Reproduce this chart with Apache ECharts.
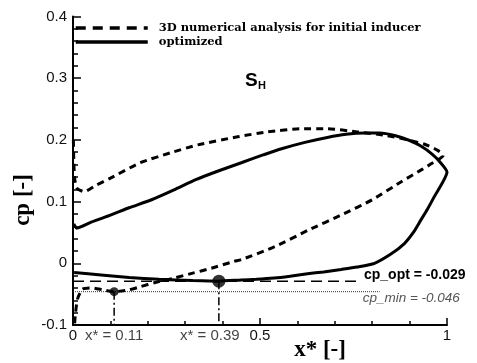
<!DOCTYPE html>
<html>
<head>
<meta charset="utf-8">
<script src="https://cdn.jsdelivr.net/npm/echarts@6/dist/echarts.min.js"></script>
<style>
  html, body { margin: 0; padding: 0; background: #fff; }
  #chart { width: 477px; height: 363px; }
</style>
</head>
<body>
<div id="chart"></div>
<script>
// Pressure coefficient along the blade chord (x* normalised chord, cp [-])
const initialUpper = [
  [0.001, 0.200], [0.002, 0.170], [0.004, 0.140], [0.010, 0.122], [0.030, 0.116],
  [0.060, 0.126], [0.100, 0.138], [0.180, 0.163], [0.260, 0.179], [0.334, 0.192],
  [0.440, 0.205], [0.520, 0.213], [0.610, 0.218], [0.680, 0.218], [0.760, 0.213],
  [0.840, 0.207], [0.895, 0.200], [0.940, 0.193], [0.975, 0.183], [0.990, 0.175]
];
const initialLower = [
  [0.990, 0.175], [0.960, 0.162], [0.930, 0.151], [0.880, 0.133], [0.800, 0.103],
  [0.720, 0.079], [0.630, 0.054], [0.540, 0.027], [0.450, 0.006], [0.430, 0.003],
  [0.370, -0.008], [0.320, -0.016], [0.270, -0.024], [0.220, -0.031], [0.180, -0.038],
  [0.150, -0.043], [0.110, -0.046], [0.080, -0.043], [0.050, -0.040], [0.025, -0.042],
  [0.012, -0.058], [0.006, -0.085], [0.003, -0.110]
];
const optimizedUpper = [
  [0.002, 0.064], [0.010, 0.057], [0.050, 0.067], [0.100, 0.078], [0.150, 0.090],
  [0.210, 0.103], [0.270, 0.119], [0.330, 0.136], [0.390, 0.150], [0.450, 0.163],
  [0.510, 0.176], [0.560, 0.186], [0.620, 0.196], [0.680, 0.204], [0.730, 0.209],
  [0.780, 0.211], [0.820, 0.211], [0.860, 0.207], [0.900, 0.199], [0.930, 0.190],
  [0.960, 0.177], [0.980, 0.165], [1.000, 0.148]
];
const optimizedLower = [
  [1.000, 0.148], [0.966, 0.108], [0.948, 0.088], [0.930, 0.070],
  [0.910, 0.050], [0.886, 0.032], [0.850, 0.015], [0.806, 0.000], [0.760, -0.006],
  [0.717, -0.010], [0.670, -0.014], [0.627, -0.017], [0.580, -0.021], [0.538, -0.024],
  [0.490, -0.026], [0.450, -0.027], [0.390, -0.029], [0.320, -0.028], [0.230, -0.026],
  [0.150, -0.023], [0.075, -0.019], [0.003, -0.015]
];

// Minimum pressure points
const xMin = 0.11, cpMin = -0.046;   // initial inducer
const xOpt = 0.39, cpOpt = -0.029;   // optimized
const optLineEnd = 0.77;
const minLineEnd = 0.82;

const seriesNames = ['3D numerical analysis for initial inducer', 'optimized'];
const xTicks = [0, 0.5, 1];
const yTicks = [-0.1, 0, 0.1, 0.2, 0.3, 0.4];
const sectionTitle = ['S', 'H'];
const axisNames = ['x* [-]', 'cp [-]'];

const sans = 'Liberation Sans, Arial, sans-serif';
const serif = 'Liberation Serif, Times New Roman, serif';

const chart = echarts.init(document.getElementById('chart'), null, { renderer: 'canvas' });

const yMin = yTicks[0], yMax = yTicks[yTicks.length - 1];

chart.setOption({
  animation: false,
  backgroundColor: '#fff',
  grid: { left: 73, right: 30, top: 16.5, bottom: 38, containLabel: false },
  title: [
    { text: sectionTitle[0], left: 245, top: 71, padding: 0,
      textStyle: { fontFamily: sans, fontWeight: 'bold', fontSize: 19, color: '#000' } },
    { text: sectionTitle[1], left: 258, top: 80, padding: 0,
      textStyle: { fontFamily: sans, fontWeight: 'bold', fontSize: 11, color: '#000' } }
  ],
  legend: {
    orient: 'vertical',
    left: 74,
    top: 22,
    padding: 0,
    itemWidth: 72,
    itemHeight: 14,
    itemGap: 2,
    itemStyle: { opacity: 0 },
    data: [
      { name: seriesNames[0], lineStyle: { type: [10, 7], width: 3.5 }, itemStyle: { opacity: 0 } },
      { name: seriesNames[1], lineStyle: { width: 3.5 }, itemStyle: { opacity: 0 } }
    ],
    textStyle: { fontFamily: 'DejaVu Serif, serif', fontWeight: 'bold', fontSize: 11.5,
                 color: '#000', padding: [0, 0, 0, 6] }
  },
  xAxis: {
    type: 'value', min: xTicks[0], max: xTicks[xTicks.length - 1], interval: 0.5,
    axisLine: { show: true, onZero: false, lineStyle: { color: '#000', width: 2 } },
    axisTick: { show: true, inside: true, length: 7, lineStyle: { color: '#000', width: 1.5 } },
    minorTick: { show: true, splitNumber: 5, length: 4, lineStyle: { color: '#000', width: 1.5 } },
    splitLine: { show: false },
    axisLabel: { margin: 3, fontFamily: sans, fontSize: 15, color: '#111',
                 formatter: v => String(+v.toFixed(2)) }
  },
  yAxis: {
    type: 'value', min: yMin, max: yMax, interval: 0.1,
    axisLine: { show: true, onZero: false, lineStyle: { color: '#000', width: 2 } },
    axisTick: { show: true, inside: true, length: 8, lineStyle: { color: '#000', width: 1.5 } },
    minorTick: { show: true, splitNumber: 5, length: 5, lineStyle: { color: '#000', width: 1.5 } },
    splitLine: { show: false },
    axisLabel: { margin: 6, fontFamily: sans, fontSize: 15, color: '#111',
                 formatter: v => (Math.abs(v) < 1e-9 ? '0' : String(+v.toFixed(1))) }
  },
  graphic: [
    { type: 'text', x: 320, y: 350,
      style: { text: axisNames[0], font: 'bold 23px ' + serif, fill: '#000',
               align: 'center', verticalAlign: 'middle' } },
    { type: 'text', x: 23, y: 200, rotation: Math.PI / 2,
      style: { text: axisNames[1], font: 'bold 23px ' + serif, fill: '#000',
               align: 'center', verticalAlign: 'middle' } }
  ],
  series: [
    {
      name: seriesNames[0], type: 'line', symbol: 'none', smooth: 0.2,
      data: initialUpper.concat(initialLower),
      lineStyle: { color: '#000', width: 3, type: [7, 5] },
      itemStyle: { color: '#000' }, z: 3
    },
    {
      name: seriesNames[1], type: 'line', symbol: 'none', smooth: 0.2,
      data: optimizedUpper.concat(optimizedLower),
      lineStyle: { color: '#000', width: 3 },
      itemStyle: { color: '#000' }, z: 3
    },
    {
      name: 'cp_opt', type: 'line', symbol: 'none', silent: true,
      data: [[0, cpOpt], [optLineEnd, cpOpt]],
      lineStyle: { color: '#000', width: 1.5, type: [11, 6] },
      endLabel: { show: true, distance: 3, offset: [0, -6],
                  formatter: () => 'cp_opt = ' + cpOpt.toFixed(3),
                  fontFamily: sans, fontWeight: 'bold', fontSize: 14, color: '#000' },
      z: 2
    },
    {
      name: 'cp_min', type: 'line', symbol: 'none', silent: true,
      data: [[0, cpMin], [minLineEnd, cpMin]],
      lineStyle: { color: '#333', width: 1, type: [1, 1] },
      endLabel: { show: true, distance: 0, offset: [-17, 7],
                  formatter: () => 'cp_min = ' + cpMin.toFixed(3),
                  fontFamily: sans, fontStyle: 'italic', fontSize: 13.5, color: '#555' },
      z: 2
    },
    {
      name: 'xMinDrop', type: 'line', symbol: 'none', silent: true,
      data: [[xMin, cpMin], [xMin, yMin]],
      lineStyle: { color: '#000', width: 1.5, type: [8, 3, 2, 3] }, z: 2
    },
    {
      name: 'xOptDrop', type: 'line', symbol: 'none', silent: true,
      data: [[xOpt, cpOpt], [xOpt, yMin]],
      lineStyle: { color: '#000', width: 1.5, type: [8, 3, 2, 3] }, z: 2
    },
    {
      name: 'minima', type: 'scatter', silent: true,
      data: [[xMin, cpMin], [xOpt, cpOpt]],
      symbol: 'circle',
      symbolSize: (val, p) => (p.dataIndex === 0 ? 9 : 13),
      itemStyle: { color: '#000' }, z: 4
    },
    {
      name: 'xLabels', type: 'scatter', silent: true, clip: false,
      symbolSize: 0,
      data: [
        { value: [xMin, yMin], label: { offset: [0, 0] } },
        { value: [xOpt, yMin], label: { offset: [-9, 0] } }
      ],
      label: { show: true, position: 'bottom', distance: 3,
               formatter: p => 'x* = ' + p.value[0].toFixed(2),
               fontFamily: sans, fontSize: 15, color: '#111' },
      z: 4
    }
  ]
});
</script>
</body>
</html>
